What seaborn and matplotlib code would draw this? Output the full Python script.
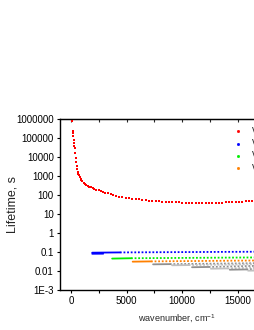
import matplotlib
matplotlib.use("Agg")
import matplotlib.pyplot as plt
import seaborn as sns
import pandas as pd
from matplotlib.lines import Line2D
from matplotlib.ticker import FixedLocator, FixedFormatter, MultipleLocator, NullLocator

# red series (dots), wavenumber in cm-1, lifetime in s
red_nu = [80, 140, 170, 200, 230, 260, 290, 320, 360, 400, 440, 490, 540, 590, 640,
          700, 770, 850, 930, 1020, 1120, 1230, 1350, 1480, 1620, 1770, 1930, 2100,
          2280, 2470, 2670, 2880, 3100, 3330, 3570, 3820, 4080, 4350, 4630, 4920,
          5220, 5520, 5820, 6120, 6420, 6720, 7020, 7320, 7620, 7920, 8220, 8520,
          8820, 9120, 9420, 9720, 10020, 10320, 10620, 10920, 11220, 11520, 11820,
          12120, 12420, 12720, 13020, 13320, 13620, 13920, 14220, 14520, 14820,
          15120, 15420, 15720, 16020, 16320, 16620, 16920, 17220]
red_tau = [7.8e5, 2.3e5, 1.8e5, 1.2e5, 8.0e4, 5.5e4, 4.0e4, 2.9e4, 1.6e4, 9000, 5200,
           3300, 2300, 1700, 1350, 1080, 860, 700, 600, 520, 450, 395, 350, 315, 280,
           250, 228, 210, 192, 176, 160, 145, 130, 120, 108, 98, 90, 83, 77, 72, 67,
           63, 60, 58, 55, 53, 51, 49, 47.5, 46, 45, 44, 43, 42, 41, 40.5, 40, 39.5,
           39, 38.6, 38.3, 38.1, 38, 38, 38.2, 38.5, 39, 39.5, 40.2, 41, 41.8, 42.6,
           43.4, 44.2, 45, 45.8, 46.6, 47.4, 48.2, 49, 50]

# other series: start, end of dense part, far end
blue_nu = [1900, 4400, 17400]
blue_tau = [0.092, 0.095, 0.104]
blue_low_nu = [1900, 2900]
blue_low_tau = [0.080, 0.081]
green_nu = [3700, 5400, 17400]
green_tau = [0.045, 0.047, 0.052]
orange_nu = [5550, 7200, 17400]
orange_tau = [0.031, 0.032, 0.036]
grey_nu = [[7390, 8900, 17400], [9100, 10600, 17400], [10900, 12400, 17400],
           [12600, 14100, 17400], [14300, 15800, 17400], [15950, 17000, 17400]]
grey_tau = [[0.0224, 0.023, 0.026], [0.0200, 0.0205, 0.023], [0.0158, 0.0163, 0.019],
            [0.0132, 0.0137, 0.016], [0.0117, 0.0121, 0.0135], [0.0104, 0.0106, 0.011]]

legend_labels = ["V=1", "V=2", "V=3", "V=4"]
y_ticks = [1e-3, 1e-2, 1e-1, 1, 10, 100, 1000, 1e4, 1e5, 1e6]
y_tick_labels = ["1E-3", "0.01", "0.1", "1", "10", "100", "1000", "10000", "100000", "1000000"]
x_ticks = [0, 5000, 10000, 15000, 20000]

sns.set_style("ticks")
plt.rcParams["font.family"] = ["Liberation Sans", "DejaVu Sans"]
plt.rcParams["mathtext.fontset"] = "custom"
plt.rcParams["mathtext.rm"] = "Liberation Sans"
plt.rcParams["mathtext.it"] = "Liberation Sans:italic"

fig = plt.figure(figsize=(2.55, 3.3), dpi=100)
ax = fig.add_axes([60 / 255, 40 / 330, 233 / 255, 171 / 330])


def band(nu, tau, color):
    df = pd.DataFrame({"nu": nu, "tau": tau})
    sns.lineplot(data=df.iloc[:2], x="nu", y="tau", ax=ax, color=color, lw=1.3,
                 estimator=None, sort=False)
    sns.lineplot(data=df.iloc[1:], x="nu", y="tau", ax=ax, color=color, lw=1.3,
                 estimator=None, sort=False, dashes=False, linestyle=(0, (1, 1)),
                 dash_capstyle="butt")


band(blue_nu, blue_tau, "#0000ff")
sns.lineplot(x=blue_low_nu, y=blue_low_tau, ax=ax, color="#0000ff", lw=1.2, estimator=None)
band(green_nu, green_tau, "#00ee00")
band(orange_nu, orange_tau, "#ff8000")
grey_cols = ["#909090", "#c0c0c0"]
for i, (gn, gt) in enumerate(zip(grey_nu, grey_tau)):
    band(gn, gt, grey_cols[i % 2])

sns.scatterplot(x=red_nu, y=red_tau, ax=ax, color="#ff0000", marker="s", s=1.8,
                linewidth=0, zorder=5)

ax.set_yscale("log")
ax.set_ylim(1e-3, 1e6)
ax.set_xlim(-1000, 20000)
ax.yaxis.set_major_locator(FixedLocator(y_ticks))
ax.yaxis.set_major_formatter(FixedFormatter(y_tick_labels))
ax.yaxis.set_minor_locator(NullLocator())
ax.xaxis.set_major_locator(FixedLocator(x_ticks))
ax.xaxis.set_minor_locator(MultipleLocator(2500))

for side in ["left", "bottom", "top", "right"]:
    ax.spines[side].set_linewidth(1.0)
    ax.spines[side].set_color("black")
ax.tick_params(axis="both", which="both", direction="out", labelsize=7, pad=2,
               width=0.8, length=2.5, colors="black")
top = ax.secondary_xaxis("top")
top.set_xticks(x_ticks)
top.xaxis.set_minor_locator(MultipleLocator(2500))
top.tick_params(axis="x", which="both", direction="in", length=2.5, width=0.8,
                labeltop=False)

ax.set_xlabel("wavenumber, cm$^{-1}$", fontsize=6.5, labelpad=5)
ax.set_ylabel("Lifetime, s", fontsize=9)
ax.yaxis.set_label_coords(-0.18, 0.5)

handles = [Line2D([], [], color=c, marker="s", markersize=1.0, linestyle="none")
           for c in ["#ff0000", "#0000ff", "#00ee00", "#ff8000"]]
ax.legend(handles, legend_labels, loc="upper left", bbox_to_anchor=(0.747, 0.956),
          frameon=False, fontsize=7, handlelength=0.8, handletextpad=1.0,
          borderpad=0, borderaxespad=0, labelspacing=0.25)

fig.savefig("out.png", dpi=100)
